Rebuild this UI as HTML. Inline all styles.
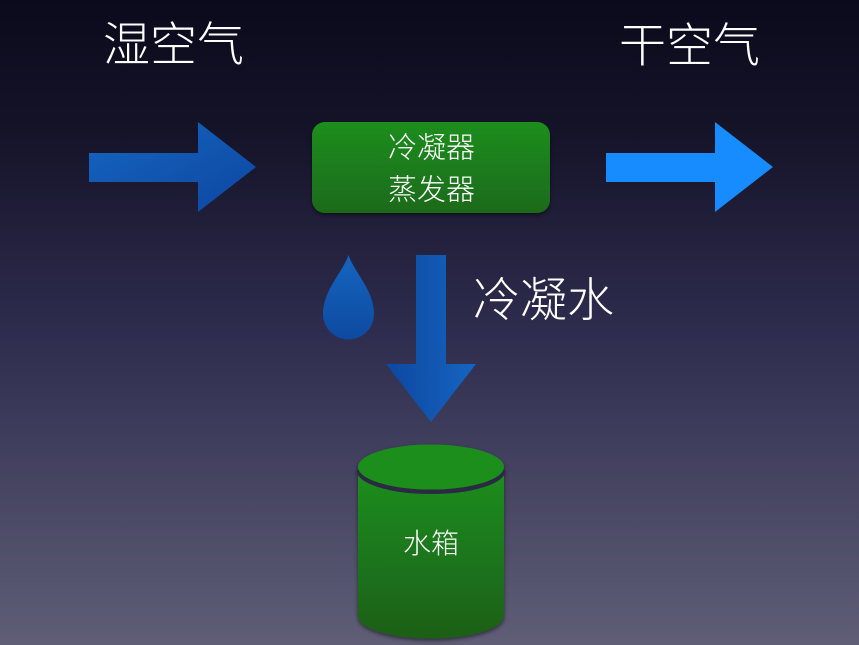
<!DOCTYPE html>
<html>
<head>
<meta charset="utf-8">
<style>
  html, body { margin: 0; padding: 0; }
  body { width: 859px; height: 645px; overflow: hidden; }
  svg { display: block; }
  text { font-family: "Liberation Sans", "Noto Sans CJK SC", sans-serif; fill: #ffffff; font-weight: 300; }
</style>
</head>
<body>
<svg width="859" height="645" viewBox="0 0 859 645" xmlns="http://www.w3.org/2000/svg">
  <defs>
    <linearGradient id="bg" x1="0" y1="0" x2="0" y2="1">
      <stop offset="0" stop-color="#0b0a1c"/>
      <stop offset="0.2" stop-color="#141328"/>
      <stop offset="0.52" stop-color="#2f2d4f"/>
      <stop offset="1" stop-color="#5f5e76"/>
    </linearGradient>
    <linearGradient id="blue1" x1="0" y1="0" x2="1" y2="1">
      <stop offset="0" stop-color="#1565c0"/>
      <stop offset="1" stop-color="#0d47a1"/>
    </linearGradient>
    <linearGradient id="blueDown" x1="0" y1="0" x2="1" y2="0">
      <stop offset="0" stop-color="#0d47a1"/>
      <stop offset="1" stop-color="#1565c0"/>
    </linearGradient>
    <linearGradient id="drop" x1="0" y1="0" x2="0" y2="1">
      <stop offset="0" stop-color="#1565c0"/>
      <stop offset="1" stop-color="#0d4aa0"/>
    </linearGradient>
    <linearGradient id="greenBox" x1="0" y1="0" x2="0" y2="1">
      <stop offset="0" stop-color="#1f8e1f"/>
      <stop offset="1" stop-color="#1c6a19"/>
    </linearGradient>
    <linearGradient id="greenCyl" x1="0" y1="0" x2="0" y2="1">
      <stop offset="0" stop-color="#1f8e1f"/>
      <stop offset="1" stop-color="#1c5f18"/>
    </linearGradient>
    <filter id="sh" x="-10%" y="-10%" width="120%" height="130%">
      <feDropShadow dx="0" dy="2" stdDeviation="2" flood-color="#000" flood-opacity="0.5"/>
    </filter>
  </defs>

  <rect x="0" y="0" width="859" height="645" fill="url(#bg)"/>

  <!-- Titles -->
  <text x="173.5" y="61" font-size="47" text-anchor="middle">湿空气</text>
  <text x="689.5" y="62" font-size="47" text-anchor="middle">干空气</text>

  <!-- Left arrow -->
  <polygon points="89,153 198,153 198,122 256,167 198,212 198,182 89,182" fill="url(#blue1)"/>

  <!-- Right arrow -->
  <polygon points="606,153 715,153 715,122 773,167 715,212 715,182 606,182" fill="#168cff"/>

  <!-- Green box -->
  <rect x="312" y="122" width="238" height="91" rx="13" ry="13" fill="url(#greenBox)" filter="url(#sh)"/>
  <text x="431.5" y="157.5" font-size="29" text-anchor="middle">冷凝器</text>
  <text x="431.5" y="199.5" font-size="29" text-anchor="middle">蒸发器</text>

  <!-- Drop -->
  <path d="M348.5,255 C343,272 323,290 323,314 A25.5,25.5 0 0 0 374,314 C374,290 354,272 348.5,255 Z" fill="url(#drop)"/>

  <!-- Down arrow -->
  <polygon points="416,255 446,255 446,364 476,364 431,422 386,364 416,364" fill="url(#blueDown)"/>

  <!-- 冷凝水 label -->
  <text x="543.5" y="316.5" font-size="47" text-anchor="middle">冷凝水</text>

  <!-- Cylinder -->
  <g filter="url(#sh)">
    <path d="M358,470 A73,22.5 0 0 0 504,470 L504,616 A73,22.5 0 0 1 358,616 Z" fill="url(#greenCyl)"/>
    <path d="M358,470 A73,22.5 0 0 0 504,470" fill="none" stroke="#2c2a44" stroke-width="3"/>
    <ellipse cx="431" cy="467" rx="73" ry="22.5" fill="#1f8e1f"/>
  </g>
  <text x="431" y="553" font-size="28" text-anchor="middle">水箱</text>
</svg>
</body>
</html>
